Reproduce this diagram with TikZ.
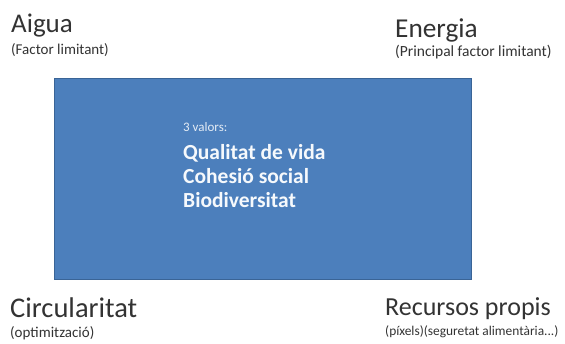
\documentclass[tikz,border=0pt]{standalone}
\usepackage{fontspec}
\setmainfont{Carlito}
\definecolor{boxfill}{HTML}{4C7FBC}
\definecolor{boxline}{HTML}{3A6496}
\definecolor{txt}{HTML}{333333}
\begin{document}
\begin{tikzpicture}[x=1pt,y=1pt,
  big/.style={anchor=base west,inner sep=0pt,text=txt,font=\fontsize{#1}{28}\selectfont},
  small/.style={anchor=base west,inner sep=0pt,text=txt,font=\fontsize{#1}{15}\selectfont},
  inner/.style={anchor=base west,inner sep=0pt,text=white!95!boxfill,font=\bfseries\fontsize{21.5}{24}\selectfont},
  innersmall/.style={anchor=base west,inner sep=0pt,text=white!85!boxfill,font=\fontsize{13}{14}\selectfont}]
\useasboundingbox (0,0) rectangle (565,343);
\fill[white] (0,0) rectangle (565,343);
\node[draw=boxline,fill=boxfill,line width=0.8pt,minimum width=417pt,minimum height=201pt,anchor=north west,inner sep=0pt] (box) at (54,265) {};
\node[big=27] (aigua) at (11,310) {Aigua};
\node[small=15] (aiguas) at (11,288) {(Factor limitant)};
\node[big=27.3] (energia) at (395,305) {Energia};
\node[small=15.5] (energias) at (395,286) {(Principal factor limitant)};
\node[big=28.5] (circ) at (10,26) {Circularitat};
\node[small=15] (circs) at (10,6) {(optimització)};
\node[big=26] (rec) at (385,28) {Recursos propis};
\node[small=13.4] (recs) at (385,8) {(píxels)(seguretat alimentària...)};
\node[innersmall] (val) at (183,211) {3 valors:};
\node[inner] (q) at (183,183) {Qualitat de vida};
\node[inner] (c) at (183,159) {Cohesió social};
\node[inner] (b) at (183,135) {Biodiversitat};
\end{tikzpicture}
\end{document}
